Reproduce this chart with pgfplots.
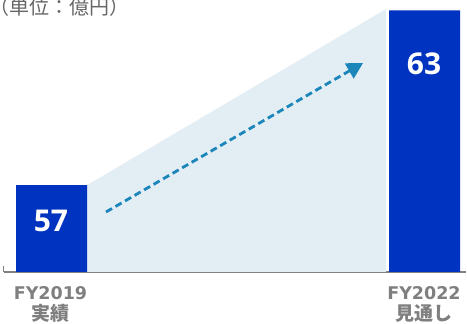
\documentclass[border=0pt]{standalone}
\usepackage{pgfplots}
\pgfplotsset{compat=1.18}
\usepackage{fontspec}
\setmainfont{DejaVu Sans}
\newfontfamily\numfont{Open Sans}
\newfontfamily\cjk{Noto Sans CJK JP}
\usetikzlibrary{arrows.meta}
\definecolor{barc}{HTML}{0033C0}
\definecolor{shade}{HTML}{E3EDF4}
\definecolor{arrowc}{HTML}{1C86BA}
\definecolor{labc}{HTML}{7F7F7F}
\definecolor{titc}{HTML}{666666}
\definecolor{axc}{HTML}{808080}
\begin{document}
\begin{tikzpicture}
\path[use as bounding box] (-4pt,-52pt) rectangle (463pt,272pt);
\begin{axis}[
  scale only axis,
  width=462pt, height=272pt,
  xmin=0, xmax=4.946,
  ymin=54.017, ymax=63.36,
  axis x line*=bottom,
  axis y line=none,
  axis line style={axc, line width=1.2pt},
  xtick={0,1,2,3,4},
  xticklabels={},
  tick align=inside,
  major tick length=6pt,
  tick style={axc, line width=1pt},
  ytick=\empty,
]
\addplot[fill=shade, draw=none] coordinates {(0.889,54.017) (0.889,57) (4.09,63.05) (4.09,54.017)} -- cycle;
\addplot[ybar, bar width=71pt, fill=barc, draw=none] coordinates {(0.509,57) (4.502,63)};
\addplot[draw=arrowc, line width=2.8pt, dash pattern=on 7pt off 4pt, -{Triangle[length=16pt,width=17pt]}] coordinates {(1.092,56.078) (3.844,61.197)};
\node[anchor=base, text=white, font=\numfont\bfseries\fontsize{30}{30}\selectfont] at (axis cs:0.502,55.425) {57};
\node[anchor=base, text=white, font=\numfont\bfseries\fontsize{30}{30}\selectfont] at (axis cs:4.497,60.795) {63};
\end{axis}
\node[anchor=base west, inner sep=0pt, text=titc, font=\cjk\fontsize{20}{20}\selectfont] at (-15pt,257.6pt) {（単位：億円）};
\node[anchor=base, inner sep=0pt, text=labc, font=\bfseries\fontsize{17.5}{17.5}\selectfont] at (46.5pt,-27.4pt) {FY2019};
\node[anchor=base, inner sep=0pt, text=labc, font=\cjk\bfseries\fontsize{19}{19}\selectfont] at (46.5pt,-48.5pt) {実績};
\node[anchor=base, inner sep=0pt, text=labc, font=\bfseries\fontsize{17.5}{17.5}\selectfont] at (420pt,-27.4pt) {FY2022};
\node[anchor=base, inner sep=0pt, text=labc, font=\cjk\bfseries\fontsize{19}{19}\selectfont] at (420pt,-48.5pt) {見通し};
\end{tikzpicture}
\end{document}
